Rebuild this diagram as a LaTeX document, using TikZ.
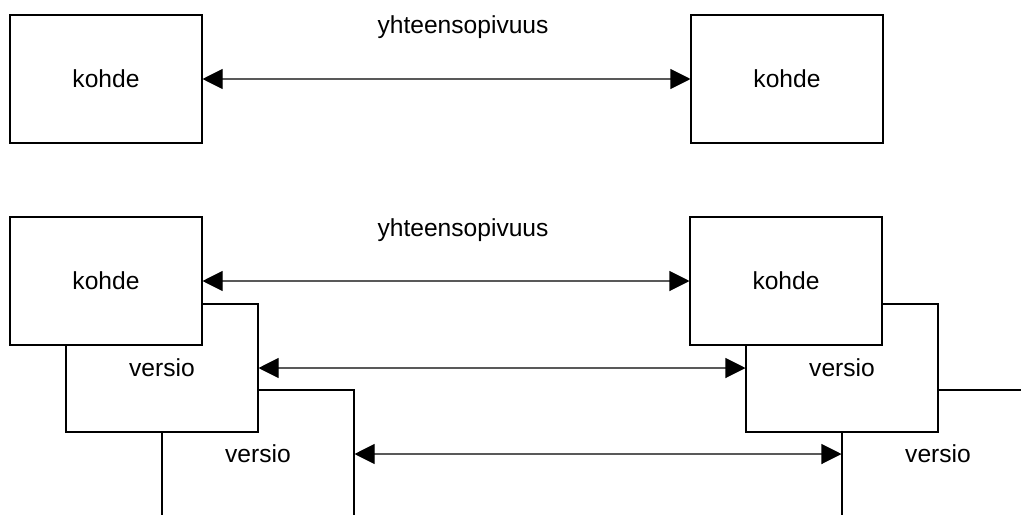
\documentclass[tikz,border=0pt]{standalone}
\usepackage{fontspec}
\setmainfont{Liberation Sans}
\usepackage{tikz}
\usetikzlibrary{arrows.meta, positioning}

\begin{document}
\begin{tikzpicture}[
				on grid,
				% Styles des boites
				boite/.style={draw=black, fill=white, line width=0.6pt, minimum width=3.84cm, minimum height=2.56cm, inner sep=0pt, font=\fontsize{14}{17}\selectfont},
				texte/.style={font=\fontsize{14}{17}\selectfont, inner sep=0pt},
				lien/.style={{Triangle[length=4mm, width=4mm, color=black]}-{Triangle[length=4mm, width=4mm, color=black]}, line width=0.6pt, draw=black!65},
				]
				
				\clip (0,0) rectangle (20.42,-10.28);
				
				% Partie du haut
				\node[boite] (kohdeA) at (2.12,-1.58) {kohde};
				\node[boite, right=13.62cm of kohdeA] (kohdeB) {kohde};
				\node[texte] (yhteensopA) at (9.26,-0.54) {yhteensopivuus};
				
				\draw[lien] (kohdeA) -- (kohdeB);
				
				
				% Partie du bas
				\node[boite] (versioL2) at (5.16,-9.08) {versio};
				\node[boite, above left=1.72cm and 1.92cm of versioL2] (versioL1) {versio};
				\node[boite, above left=1.74cm and 1.12cm of versioL1] (kohdeL) {kohde};
				
				\node[boite, right=13.6cm of versioL2] (versioR2) {versio};
				\node[boite, above left=1.72cm and 1.92cm of versioR2] (versioR1) {versio};
				\node[boite, above left=1.74cm and 1.12cm of versioR1] (kohdeR) {kohde};
				
				\node[texte] (yhteensopB) at (9.26,-4.6) {yhteensopivuus};
				
				\draw[lien] (kohdeL) -- (kohdeR);
				\draw[lien] (versioL1) -- (versioR1);
				\draw[lien] (versioL2) -- (versioR2);
			\end{tikzpicture}
\end{document}
